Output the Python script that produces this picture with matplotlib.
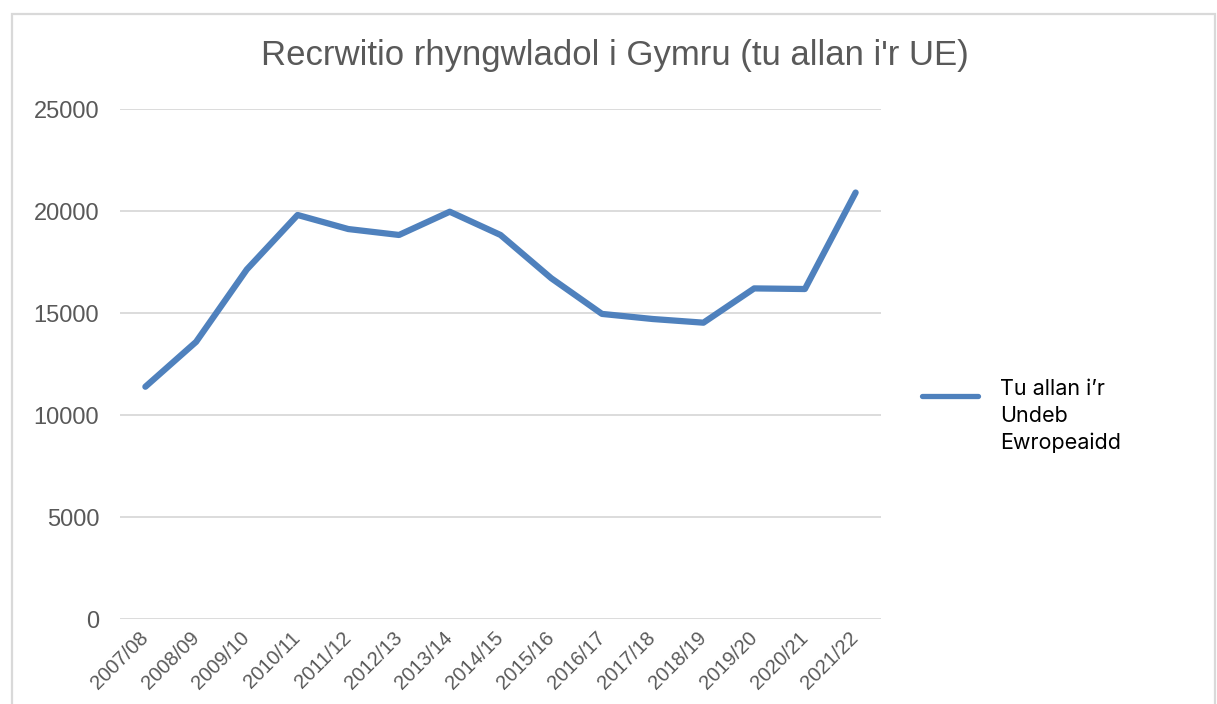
import matplotlib
matplotlib.use("Agg")
import matplotlib.pyplot as plt
from matplotlib.patches import Rectangle
from matplotlib.legend_handler import HandlerLine2D

years = ["2007/08", "2008/09", "2009/10", "2010/11", "2011/12", "2012/13", "2013/14",
         "2014/15", "2015/16", "2016/17", "2017/18", "2018/19", "2019/20", "2020/21", "2021/22"]
outside_eu = [11400, 13600, 17150, 19820, 19130, 18840, 19980,
              18840, 16720, 14970, 14720, 14540, 16220, 16190, 20920]
yticks = [0, 5000, 10000, 15000, 20000, 25000]

blue = "#4F81BD"
grey_txt = "#595959"
grid_col = "#D9D9D9"


class RaisedLine(HandlerLine2D):
    # put the legend line level with the first text line, like Excel does
    def create_artists(self, legend, orig_handle, xdescent, ydescent, width, height, fontsize, trans):
        arts = super().create_artists(legend, orig_handle, xdescent, ydescent, width, height, fontsize, trans)
        for a in arts:
            a.set_ydata([y + 14.5 for y in a.get_ydata()])
        return arts


plt.rcParams['font.family'] = ['Liberation Sans', 'DejaVu Sans']

fig = plt.figure(figsize=(12.17, 7.04), dpi=100)
fig.patch.set_facecolor("white")

# light frame round the chart (bottom edge falls off the picture)
fig.add_artist(Rectangle((12 / 1217, -0.05), 1203 / 1217, 1.05 - 14 / 704,
                         transform=fig.transFigure, fill=False,
                         edgecolor=grid_col, linewidth=1.6))

ax = fig.add_axes([120 / 1217, (704 - 619.3) / 704, 761 / 1217, 510 / 704])
x = list(range(len(years)))
line, = ax.plot(x, outside_eu, color=blue, linewidth=4.5, solid_capstyle="round",
                solid_joinstyle="round", label="Tu allan i’r\nUndeb\nEwropeaidd")

ax.set_xlim(-0.5, len(years) - 0.5)
ax.set_ylim(0, 25000)
ax.set_yticks(yticks)
ax.set_yticklabels([str(v) for v in yticks])
ax.set_xticks(x)
ax.set_xticklabels(years, rotation=45, ha="right", va="center", rotation_mode="anchor")
ax.tick_params(axis="y", length=0, pad=15, labelsize=17, labelcolor=grey_txt)
ax.tick_params(axis="x", length=0, pad=11, labelsize=14.5, labelcolor=grey_txt)
ax.grid(axis="y", color=grid_col, linewidth=1.3)
ax.set_axisbelow(True)
for s in ax.spines.values():
    s.set_visible(False)

fig.text(615 / 1217, 1 - 56 / 704, "Recrwitio rhyngwladol i Gymru (tu allan i'r UE)",
         ha="center", va="center", fontsize=25, color=grey_txt)

leg = fig.legend(handles=[line], loc="center left", bbox_to_anchor=(903 / 1217, 1 - 416 / 704),
                 frameon=False, handlelength=2.6, handletextpad=1.0,
                 prop={"family": ["Inter", "DejaVu Sans"], "size": 15.5},
                 handler_map={line: RaisedLine()})
for t in leg.get_texts():
    t.set_color("black")
    t.set_linespacing(1.43)
leg.get_lines()[0].set_linewidth(3.8)

fig.savefig("out.png", dpi=100, facecolor="white")
